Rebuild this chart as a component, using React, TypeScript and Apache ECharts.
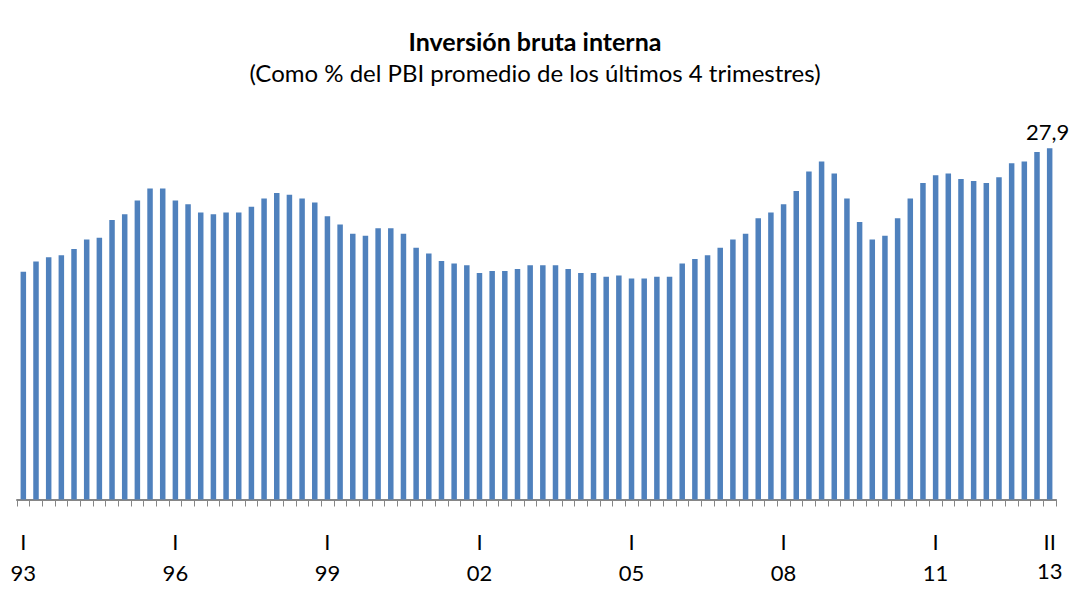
import React, { useEffect, useRef } from "react";
import * as echarts from "echarts";

const years = ["93","94","95","96","97","98","99","00","01","02","03","04","05","06","07","08","09","10","11","12","13"];
const quarters = ["I", "II", "III", "IV"];
const lastQuarterCount = 2; // data through 2013-II

const investment = [
  18.1, 18.9, 19.25, 19.4,
  19.9, 20.65, 20.8, 22.2,
  22.65, 23.75, 24.7, 24.7,
  23.75, 23.45, 22.8, 22.65,
  22.8, 22.8, 23.25, 23.9,
  24.35, 24.2, 23.9, 23.6,
  22.5, 21.85, 21.1, 20.95,
  21.55, 21.55, 21.1, 20.0,
  19.55, 18.95, 18.75, 18.6,
  18.0, 18.15, 18.15, 18.3,
  18.6, 18.6, 18.6, 18.3,
  18.0, 18.0, 17.7, 17.8,
  17.55, 17.55, 17.7, 17.7,
  18.75, 19.1, 19.4, 20.0,
  20.65, 21.1, 22.35, 22.8,
  23.45, 24.5, 26.05, 26.85,
  25.9, 23.9, 22.05, 20.65,
  20.95, 22.35, 23.9, 25.15,
  25.75, 25.9, 25.45, 25.3,
  25.15, 25.6, 26.7, 26.85,
  27.6, 27.9,
];

const labeledTicks = ["93-I", "96-I", "99-I", "02-I", "05-I", "08-I", "11-I", "13-II"];

const categories: string[] = [];
years.forEach((y, i) => {
  const n = i === years.length - 1 ? lastQuarterCount : 4;
  for (let q = 0; q < n; q++) categories.push(`${y}-${quarters[q]}`);
});

export default function App() {
  const ref = useRef<HTMLDivElement>(null);
  useEffect(() => {
    document.body.style.margin = "0";
    if (!ref.current) return;
    const chart = echarts.init(ref.current, undefined, { renderer: "svg" });
    const font = "Lato, 'Open Sans', sans-serif";
    const lastIdx = investment.length - 1;
    chart.setOption({
      animation: false,
      backgroundColor: "#ffffff",
      title: [
        {
          left: "center",
          top: 23,
          text: "Inversión bruta interna",
          textStyle: { fontFamily: font, fontSize: 25, fontWeight: "bold", color: "#000", lineHeight: 25 },
        },
        {
          left: "center",
          top: 55,
          text: "(Como % del PBI promedio de los últimos 4 trimestres)",
          textStyle: { fontFamily: font, fontSize: 24, fontWeight: "normal", color: "#000", lineHeight: 24 },
        },
      ],
      grid: { left: 17, right: 14, top: 147, bottom: 89.5 },
      xAxis: {
        type: "category",
        data: categories,
        boundaryGap: true,
        axisLine: { lineStyle: { color: "#868686", width: 2 } },
        axisTick: { show: true, interval: 0, length: 7, lineStyle: { color: "#868686", width: 1 } },
        axisLabel: {
          interval: 0,
          margin: 26,
          fontFamily: font,
          color: "#000",
          formatter: (v: string) => {
            if (!labeledTicks.includes(v)) return "";
            const [y, q] = v.split("-");
            if (v === labeledTicks[labeledTicks.length - 1]) return `{q|${q}}\n{y2|${y}}`;
            return `{q|${q}}\n{y|${y}}`;
          },
          rich: {
            q: { fontFamily: font, fontSize: 22, lineHeight: 31, color: "#000" },
            y: { fontFamily: font, fontSize: 22, lineHeight: 31, color: "#000" },
            y2: { fontFamily: font, fontSize: 22, lineHeight: 22, padding: [6, 0, 0, 0], color: "#000" },
          },
        },
      },
      yAxis: {
        type: "value",
        min: 0,
        max: 28,
        show: false,
        splitLine: { show: false },
      },
      series: [
        {
          type: "bar",
          barWidth: 5.5,
          itemStyle: { color: "#4F81BD" },
          data: investment.map((v, i) =>
            i === lastIdx
              ? {
                  value: v,
                  label: {
                    show: true,
                    position: "top",
                    distance: 6,
                    offset: [-2, 0],
                    fontFamily: font,
                    fontSize: 22,
                    color: "#000",
                    formatter: (p: any) => String(p.value.toFixed(1)).replace(".", ","),
                  },
                }
              : v
          ),
        },
      ],
    });
    return () => chart.dispose();
  }, []);
  return <div ref={ref} style={{ width: 1070, height: 589 }} />;
}
